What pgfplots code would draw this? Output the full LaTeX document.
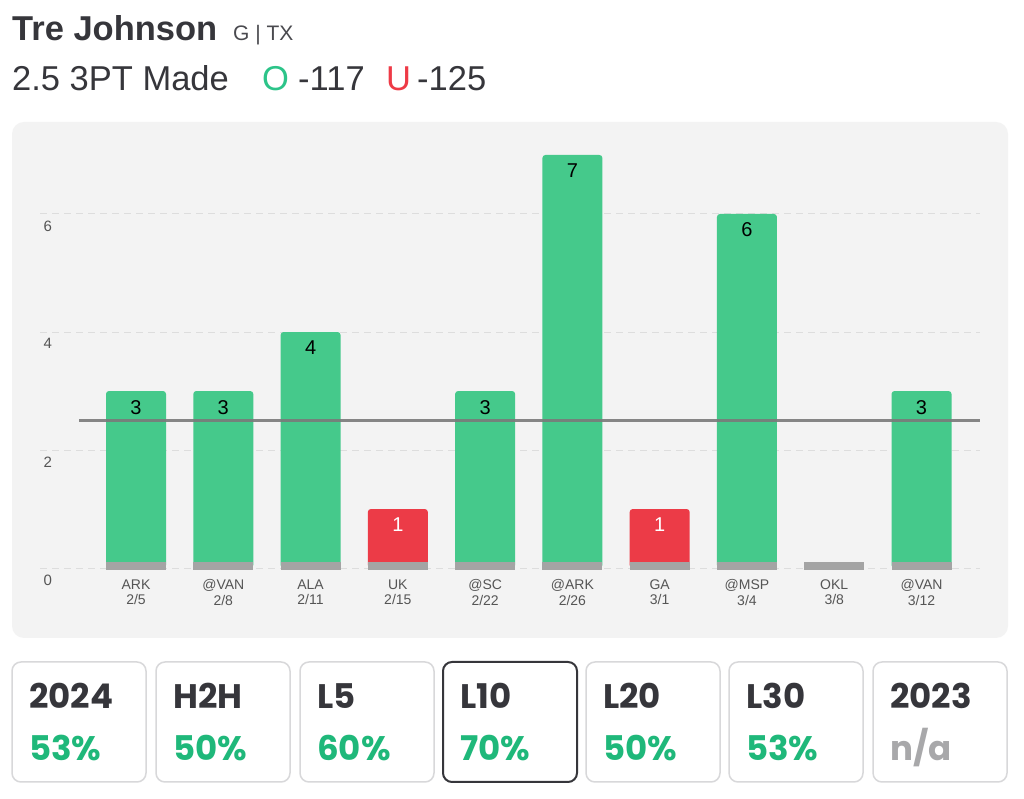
\documentclass[border=0pt]{standalone}
\usepackage{fontspec}
\setmainfont{Liberation Sans}
\newfontfamily\popp{Poppins}
\usepackage{pgfplots}
\pgfplotsset{compat=1.18}
\definecolor{barg}{HTML}{45C98B}
\definecolor{barr}{HTML}{EC3B47}
\definecolor{stripg}{HTML}{A4A4A4}
\definecolor{panel}{HTML}{F3F3F3}
\definecolor{txt}{HTML}{36363B}
\definecolor{pctg}{HTML}{1FB87A}
\definecolor{pctn}{HTML}{A8A8AA}
\definecolor{cardb}{HTML}{D8D8DA}
\definecolor{gridc}{HTML}{DDDDDD}
\definecolor{linec}{HTML}{7A7A7A}
\definecolor{ticktxt}{HTML}{555555}
\definecolor{og}{HTML}{2CC489}
\definecolor{ur}{HTML}{EE3A46}
\newcommand{\fs}[1]{\fontsize{#1}{#1}\selectfont}
\newcommand{\card}[6]{%
  \draw[#5, line width=#6, rounded corners=9pt] (#1,17) rectangle ++(134,120);
  \node[anchor=base west, inner sep=0, text=txt] at (#1+17,90) {\popp\fs{34}\bfseries #2};
  \node[anchor=base west, inner sep=0, text=#4] at (#1+17,38) {\popp\fs{34}\bfseries #3};
}
\begin{document}
\begin{tikzpicture}[x=1pt,y=1pt]
\useasboundingbox (0,0) rectangle (1024,799);
\fill[white] (0,0) rectangle (1024,799);
\fill[panel, rounded corners=12pt] (12,161) rectangle (1008,677);
% header
\node[anchor=base west, inner sep=0, text=txt] at (12,758) {\fs{34.5}\bfseries Tre Johnson};
\node[anchor=base west, inner sep=0, text=txt!90] at (233,758) {\fs{21}G | TX};
\node[anchor=base west, inner sep=0, text=txt] at (12,708) {\fs{34.5}2.5 3PT Made};
\node[anchor=base west, inner sep=0, text=og] at (262,708) {\fs{34.5}O};
\node[anchor=base west, inner sep=0, text=txt] at (298,708) {\fs{34.5}-117};
\node[anchor=base west, inner sep=0, text=ur] at (386,708) {\fs{34.5}U};
\node[anchor=base west, inner sep=0, text=txt] at (417,708) {\fs{34.5}-125};
% cards
\card{12}{2024}{53\%}{pctg}{cardb}{1.5pt}
\card{156}{H2H}{50\%}{pctg}{cardb}{1.5pt}
\card{300}{L5}{60\%}{pctg}{cardb}{1.5pt}
\card{443}{L10}{70\%}{pctg}{txt}{2pt}
\card{586}{L20}{50\%}{pctg}{cardb}{1.5pt}
\card{729}{L30}{53\%}{pctg}{cardb}{1.5pt}
\card{873}{2023}{n/a}{pctn}{cardb}{1.5pt}
\begin{axis}[
  at={(40pt,222.1pt)}, anchor=south west,
  scale only axis, width=940pt, height=439.6pt,
  xmin=-1.1, xmax=9.67, ymin=-0.15, ymax=7.3,
  axis line style={draw=none},
  major tick length=0pt,
  ytick={0,2,4,6},
  ymajorgrids,
  major grid style={gridc, line width=1pt, dash pattern=on 7pt off 5pt},
  /pgf/number format/assume math mode=true,
  yticklabel style={anchor=north west, yshift=-3pt, font=\fs{15}, text=ticktxt},
  xtick={0,...,9},
  xticklabels={{ARK\\2/5},{@VAN\\2/8},{ALA\\2/11},{UK\\2/15},{@SC\\2/22},{@ARK\\2/26},{GA\\3/1},{@MSP\\3/4},{OKL\\3/8},{@VAN\\3/12}},
  xticklabel style={align=center, font=\fontsize{14}{15.5}\selectfont, text=ticktxt, yshift=1pt},
]
\addplot[ybar, bar width=60pt, bar shift=0pt, fill=barg, draw=none, rounded corners=3pt,
  nodes near coords, nodes near coords align=below,
  every node near coord/.append style={font=\fs{20}, text=black, yshift=-5.5pt}]
  coordinates {(0,3) (1,3) (2,4) (4,3) (5,7) (7,6) (9,3)};
\addplot[ybar, bar width=60pt, bar shift=0pt, fill=barr, draw=none, rounded corners=3pt,
  nodes near coords, nodes near coords align=below,
  every node near coord/.append style={font=\fs{20}, text=white, yshift=-5.5pt}]
  coordinates {(3,1) (6,1)};
\addplot[only marks, mark=*, mark options={draw opacity=0, fill opacity=0}, error bars/.cd, y dir=both, y explicit, error mark=none,
  error bar style={draw=stripg, line width=60pt, draw opacity=1}]
  coordinates {(0,0.033) +- (0,0.067) (1,0.033) +- (0,0.067) (2,0.033) +- (0,0.067)
   (3,0.033) +- (0,0.067) (4,0.033) +- (0,0.067) (5,0.033) +- (0,0.067)
   (6,0.033) +- (0,0.067) (7,0.033) +- (0,0.067) (8,0.033) +- (0,0.067) (9,0.033) +- (0,0.067)};
\addplot[linec, line width=3pt, opacity=0.9] coordinates {(-0.65,2.5) (9.67,2.5)};
\end{axis}
\end{tikzpicture}
\end{document}
